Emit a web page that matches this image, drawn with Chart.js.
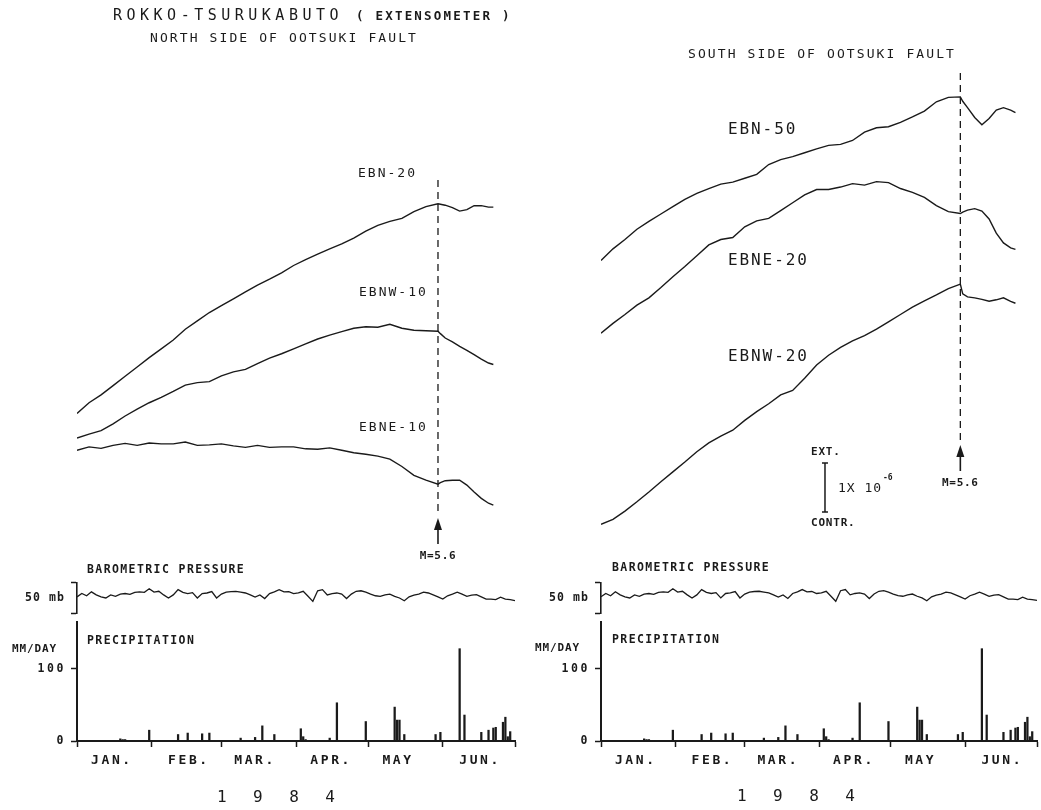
<!DOCTYPE html>
<html>
<head>
<meta charset="utf-8">
<title>ROKKO-TSURUKABUTO extensometer 1984</title>
<script src="https://cdn.jsdelivr.net/npm/chart.js@4.4.0/dist/chart.umd.min.js"></script>
<style>
body { margin:0; background:#fff; }
#page { position:relative; width:1041px; height:810px; overflow:hidden; background:#fff; }
canvas { position:absolute; }
.t { position:absolute; font-family:'DejaVu Sans Mono', monospace; color:#1a1a1a; white-space:nowrap; line-height:1; transform:translateY(-50%); }
.b { font-weight:bold; }
</style>
</head>
<body>
<div id="page">
	<canvas id="strainL" width="520" height="570" style="left:0;top:0"></canvas>
	<canvas id="strainR" width="521" height="570" style="left:520px;top:0"></canvas>
	<canvas id="rainL" width="520" height="210" style="left:0;top:600px"></canvas>
	<canvas id="rainR" width="521" height="210" style="left:520px;top:600px"></canvas>
	<canvas id="pressL" width="520" height="56" style="left:0;top:570px"></canvas>
	<canvas id="pressR" width="521" height="56" style="left:520px;top:570px"></canvas>

	<div class="t" style="left:113px;top:15px;font-size:15px;letter-spacing:4.5px">ROKKO-TSURUKABUTO</div>
	<div class="t b" style="left:356px;top:16px;font-size:12.5px;letter-spacing:2.2px">( EXTENSOMETER )</div>
	<div class="t" style="left:150px;top:37px;font-size:13px;letter-spacing:2.1px">NORTH SIDE OF OOTSUKI FAULT</div>
	<div class="t" style="left:688px;top:53px;font-size:13px;letter-spacing:2.1px">SOUTH SIDE OF OOTSUKI FAULT</div>

	<div class="t" style="left:358px;top:172px;font-size:13px;letter-spacing:2px">EBN-20</div>
	<div class="t" style="left:359px;top:291px;font-size:13px;letter-spacing:2px">EBNW-10</div>
	<div class="t" style="left:359px;top:426px;font-size:13px;letter-spacing:2px">EBNE-10</div>
	<div class="t" style="left:728px;top:129px;font-size:16px;letter-spacing:1.9px">EBN-50</div>
	<div class="t" style="left:728px;top:260px;font-size:16px;letter-spacing:1.9px">EBNE-20</div>
	<div class="t" style="left:728px;top:356px;font-size:16px;letter-spacing:1.9px">EBNW-20</div>

	<div class="t b" style="left:811px;top:451px;font-size:11px;letter-spacing:0.8px">EXT.</div>
	<div class="t b" style="left:811px;top:522px;font-size:11px;letter-spacing:0.8px">CONTR.</div>
	<div class="t" style="left:838px;top:487px;font-size:13px;letter-spacing:1px">1X 10</div>
	<div class="t b" style="left:883px;top:478px;font-size:8px">-6</div>

	<div class="t b" style="left:87px;top:570px;font-size:11.5px;letter-spacing:1.4px">BAROMETRIC PRESSURE</div>
	<div class="t b" style="left:612px;top:568px;font-size:11.5px;letter-spacing:1.4px">BAROMETRIC PRESSURE</div>
	<div class="t b" style="left:87px;top:641px;font-size:11.5px;letter-spacing:1.4px">PRECIPITATION</div>
	<div class="t b" style="left:612px;top:640px;font-size:11.5px;letter-spacing:1.4px">PRECIPITATION</div>
	<div class="t b" style="left:12px;top:648px;font-size:11px;letter-spacing:0.9px">MM/DAY</div>
	<div class="t b" style="left:535px;top:647px;font-size:11px;letter-spacing:0.9px">MM/DAY</div>
	<div class="t" style="left:217px;top:797px;font-size:16px;letter-spacing:8.4px">1 9 8 4</div>
	<div class="t" style="left:737px;top:796px;font-size:16px;letter-spacing:8.4px">1 9 8 4</div>
</div>

<script>
// ----------------------------------------------------------------------
//	day numbers count from Jan 1 1984 (= 0)
// ----------------------------------------------------------------------
const monthStarts = [0,31,60,91,121,152,182]
const monthNames = ["JAN.","FEB.","MAR.","APR.","MAY","JUN."]
const monthLabelDays = [14.5,46.5,74,105.6,133.4,167.5]

const quakeDay = 150
const quakeLabel = "M=5.6"

// strain, units of 1e-6 (traces shifted for plotting)
const strainDays = [0,5,10,15,20,25,30,35,40,45,50,55,60,65,70,75,80,85,90,95,
	100,105,110,115,120,125,130,135,140,145,150,151,153,156,159,162,165,168,171,173]

// north side of the fault
const ebn20 = [2.38,2.60,2.76,2.95,3.14,3.33,3.52,3.70,3.88,4.10,4.27,4.44,4.58,4.72,4.86,5.00,5.12,5.25,5.40,5.52,
	5.63,5.74,5.84,5.96,6.10,6.22,6.30,6.36,6.50,6.60,6.66,6.65,6.63,6.58,6.51,6.54,6.62,6.62,6.59,6.59]
const ebnw10 = [1.88,1.96,2.03,2.17,2.33,2.47,2.60,2.71,2.83,2.96,3.01,3.03,3.15,3.23,3.28,3.40,3.51,3.60,3.70,3.80,
	3.90,3.98,4.05,4.12,4.15,4.14,4.20,4.12,4.08,4.07,4.06,4.01,3.92,3.84,3.75,3.67,3.58,3.49,3.41,3.38]
const ebne10 = [1.63,1.70,1.67,1.73,1.77,1.73,1.78,1.76,1.76,1.80,1.73,1.74,1.76,1.72,1.69,1.73,1.69,1.70,1.70,1.66,
	1.65,1.68,1.63,1.58,1.55,1.51,1.45,1.30,1.12,1.02,0.94,0.97,1.01,1.02,1.02,0.92,0.78,0.65,0.55,0.51]

// south side of the fault
const ebn50 = [5.50,5.74,5.93,6.14,6.30,6.45,6.60,6.75,6.87,6.97,7.06,7.10,7.18,7.26,7.46,7.56,7.62,7.70,7.78,7.85,
	7.87,7.95,8.12,8.21,8.23,8.32,8.43,8.55,8.74,8.83,8.84,8.75,8.62,8.42,8.27,8.40,8.57,8.62,8.57,8.52]
const ebne20 = [4.02,4.22,4.40,4.59,4.74,4.95,5.17,5.38,5.60,5.82,5.93,5.97,6.19,6.31,6.36,6.52,6.68,6.84,6.95,6.95,
	7.00,7.07,7.04,7.11,7.09,6.97,6.89,6.79,6.62,6.50,6.46,6.49,6.53,6.56,6.51,6.35,6.06,5.86,5.76,5.73]
const ebnw20 = [0.12,0.22,0.39,0.58,0.78,0.99,1.19,1.39,1.60,1.78,1.92,2.04,2.24,2.42,2.58,2.76,2.85,3.10,3.37,3.57,
	3.73,3.86,3.97,4.10,4.25,4.40,4.55,4.68,4.80,4.93,5.02,4.82,4.76,4.74,4.71,4.67,4.70,4.74,4.67,4.63]

// barometric pressure (mb), one reading every 2 days
const pressureStep = 2
const pressure = [1016.9,1022.4,1018.7,1025.2,1020.1,1016.9,1015.0,1020.1,1017.8,1021.5,
	1022.4,1021.0,1024.3,1025.2,1024.3,1030.3,1024.7,1026.1,1020.1,1015.0,
	1020.1,1028.9,1024.3,1022.4,1023.8,1015.0,1022.4,1023.3,1025.7,1015.0,
	1021.5,1024.7,1025.7,1026.1,1024.7,1023.3,1020.1,1016.4,1020.1,1014.1,
	1022.4,1025.2,1028.9,1025.2,1025.7,1022.4,1023.3,1026.1,1017.8,1009.4,
	1027.0,1028.9,1020.1,1022.4,1023.3,1021.5,1014.1,1021.5,1026.1,1027.0,
	1024.7,1021.5,1018.7,1017.8,1020.1,1021.5,1017.8,1015.0,1010.4,1016.9,
	1019.6,1021.5,1024.7,1023.3,1020.1,1016.9,1013.2,1018.7,1021.5,1024.7,
	1021.5,1017.8,1019.6,1020.6,1016.9,1013.2,1013.2,1012.2,1016.4,1013.2,
	1012.2,1010.8]

// daily precipitation (mm/day)
const rainDays = [18,19,20,30,42,46,52,55,68,74,77,82,93,94,95,105,108,120,132,133,
	134,136,149,151,159,161,168,171,173,174,177,178,179,180]
const rainMm = [3,2,2,15,9,11,10,11,4,5,21,9,17,6,2,4,53,27,47,29,
	29,9,9,12,128,36,12,15,18,19,26,33,6,13]

const ink = "#1a1a1a"
const mono = "'DejaVu Sans Mono', monospace"

// ----------------------------------------------------------------------
function to_points(days, values)
{
	return values.map(function (v, i) { return {x: days[i], y: v} })
}

// ----------------------------------------------------------------------
const quakeMarker = {
	id: 'quakeMarker',
	afterDatasetsDraw(chart, args, opts)
		{
		const ctx = chart.ctx
		const x = chart.scales.x.getPixelForValue(quakeDay)
		const tip = opts.tip
		ctx.save()
		ctx.strokeStyle = ink
		ctx.fillStyle = ink
		ctx.lineWidth = 1.3
		ctx.setLineDash([7, 5])
		ctx.beginPath()
		ctx.moveTo(x, opts.top)
		ctx.lineTo(x, tip - 4)
		ctx.stroke()
		ctx.setLineDash([])
		ctx.beginPath()
		ctx.moveTo(x, tip)
		ctx.lineTo(x - 4, tip + 12)
		ctx.lineTo(x + 4, tip + 12)
		ctx.closePath()
		ctx.fill()
		ctx.lineWidth = 1.6
		ctx.beginPath()
		ctx.moveTo(x, tip + 10)
		ctx.lineTo(x, tip + 26)
		ctx.stroke()
		ctx.letterSpacing = "0.7px"
		ctx.font = "bold 11px " + mono
		ctx.textAlign = "center"
		ctx.textBaseline = "middle"
		ctx.fillText(quakeLabel, x, tip + 38)
		ctx.restore()
		}
}

// 1 x 10^-6 bar, drawn on the strain axis
const scaleBar = {
	id: 'scaleBar',
	afterDatasetsDraw(chart, args, opts)
		{
		const ctx = chart.ctx
		const x = chart.scales.x.getPixelForValue(opts.day)
		const y0 = chart.scales.y.getPixelForValue(opts.base)
		const y1 = chart.scales.y.getPixelForValue(opts.base + 1)
		ctx.save()
		ctx.strokeStyle = ink
		ctx.lineWidth = 1.5
		ctx.beginPath()
		ctx.moveTo(x, y0)
		ctx.lineTo(x, y1)
		ctx.moveTo(x - 3, y0)
		ctx.lineTo(x + 3, y0)
		ctx.moveTo(x - 3, y1)
		ctx.lineTo(x + 3, y1)
		ctx.stroke()
		ctx.restore()
		}
}

const textSpacing = {
	id: 'textSpacing',
	beforeDraw(chart, args, opts)
		{
		chart.ctx.letterSpacing = opts.spacing
		},
	defaults: { spacing: "0px" }
}

// ----------------------------------------------------------------------
function draw_strain(canvas_id, series, pad_left, pad_right, marker, bar)
{
	const datasets = series.map(function (values)
		{
		return {
			data: to_points(strainDays, values),
			borderColor: ink,
			borderWidth: 1.4,
			pointRadius: 0,
			tension: 0,
			fill: false
			}
		})

	const config = {
		type: 'line',
		data: { datasets: datasets },
		options: {
			responsive: false,
			animation: false,
			events: [],
			layout: { padding: { left: pad_left, right: pad_right, top: 40, bottom: 30 } },
			plugins: {
				legend: { display: false },
				tooltip: { enabled: false },
				quakeMarker: marker,
				scaleBar: bar
				},
			scales: {
				x: { type: 'linear', display: false, min: 0, max: 182 },
				y: { type: 'linear', display: false, min: -0.2, max: 10 }
				}
			},
		plugins: [quakeMarker, scaleBar]
		}
	return new Chart(document.getElementById(canvas_id), config)
}

// ----------------------------------------------------------------------
function draw_pressure(canvas_id, axis_width, pad_right, pad_top, pad_bottom)
{
	const points = pressure.map(function (p, i) { return {x: i * pressureStep, y: p} })

	const config = {
		type: 'line',
		data: { datasets: [{
			data: points,
			borderColor: ink,
			borderWidth: 1.3,
			pointRadius: 0,
			tension: 0,
			fill: false
			}] },
		options: {
			responsive: false,
			animation: false,
			events: [],
			layout: { padding: { left: 0, right: pad_right, top: pad_top, bottom: pad_bottom } },
			plugins: {
				legend: { display: false },
				tooltip: { enabled: false },
				textSpacing: { spacing: "1.1px" }
				},
			scales: {
				x: { type: 'linear', display: false, min: 0, max: 182 },
				y: {
					type: 'linear',
					min: 990,
					max: 1040,
					afterFit: function (s) { s.width = axis_width },
					afterBuildTicks: function (s) { s.ticks = [990, 1015, 1040].map(v => ({value: v})) },
					ticks: {
						callback: v => (v === 1015 ? "50 mb" : ""),
						color: ink,
						padding: 6,
						font: { family: mono, size: 11.5, weight: 'bold' }
						},
					grid: {
						drawOnChartArea: false,
						tickLength: 6,
						tickWidth: 1.5,
						tickColor: c => (c.tick && c.tick.value === 1015 ? "rgba(0,0,0,0)" : ink)
						},
					border: { color: ink, width: 1.6 }
					}
				}
			},
		plugins: [textSpacing]
		}
	return new Chart(document.getElementById(canvas_id), config)
}

// ----------------------------------------------------------------------
function draw_rain(canvas_id, axis_width, pad_right)
{
	const config = {
		type: 'bar',
		data: { datasets: [{
			data: to_points(rainDays, rainMm),
			backgroundColor: ink,
			barThickness: 1.6,
			xAxisID: 'x',
			yAxisID: 'y'
			}] },
		options: {
			responsive: false,
			animation: false,
			events: [],
			layout: { padding: { left: 0, right: pad_right, top: 22, bottom: 0 } },
			plugins: {
				legend: { display: false },
				tooltip: { enabled: false },
				textSpacing: { spacing: "2.6px" }
				},
			scales: {
				x: {
					type: 'linear',
					position: 'bottom',
					weight: 0,
					min: 0,
					max: 182,
					offset: false,
					afterBuildTicks: function (s) { s.ticks = monthStarts.map(v => ({value: v})) },
					afterFit: function (s) { s.height = 6 },
					ticks: { display: false },
					grid: { offset: false, drawOnChartArea: false, tickLength: 6, tickWidth: 1.5, tickColor: ink },
					border: { color: ink, width: 2 }
					},
				x2: {
					type: 'linear',
					position: 'bottom',
					weight: 1,
					min: 0,
					max: 182,
					offset: false,
					afterBuildTicks: function (s) { s.ticks = monthLabelDays.map(v => ({value: v})) },
					afterFit: function (s) { s.height = 63 },
					ticks: {
						callback: (v, i) => monthNames[i],
						autoSkip: false,
						maxRotation: 0,
						padding: 6,
						color: ink,
						font: { family: mono, size: 13, weight: 'bold' }
						},
					grid: { display: false, drawTicks: false },
					border: { display: false }
					},
				y: {
					type: 'linear',
					min: 0,
					max: 165,
					afterFit: function (s) { s.width = axis_width },
					afterBuildTicks: function (s) { s.ticks = [{value: 0}, {value: 100}] },
					ticks: {
						color: ink,
						padding: 5,
						font: { family: mono, size: 11.5, weight: 'bold' }
						},
					grid: { drawOnChartArea: false, tickLength: 6, tickWidth: 1.5, tickColor: ink },
					border: { color: ink, width: 2 }
					}
				}
			},
		plugins: [textSpacing]
		}
	return new Chart(document.getElementById(canvas_id), config)
}

// ----------------------------------------------------------------------
draw_strain("strainL", [ebn20, ebnw10, ebne10], 77, 5, { top: 180, tip: 518 }, false)
draw_strain("strainR", [ebn50, ebne20, ebnw20], 81, 4, { top: 73, tip: 445 }, { day: 93.5, base: 0.37 })

draw_pressure("pressL", 77, 5, 10, 10)
draw_pressure("pressR", 81, 4, 8, 13)

draw_rain("rainL", 77, 5)
draw_rain("rainR", 81, 4)

// ----------------------------------------------------------------------
</script>
</body>
</html>
